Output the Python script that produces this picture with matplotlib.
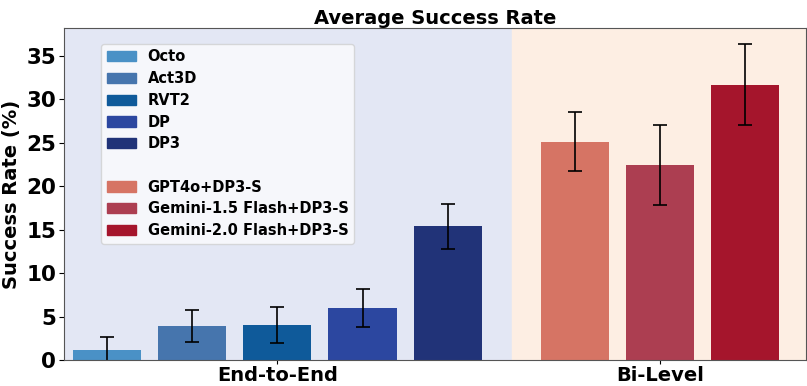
import numpy as np
import matplotlib.pyplot as plt
from matplotlib.patches import Patch

plt.rcParams['font.family'] = 'DejaVu Sans'
plt.rcParams['font.weight'] = 'bold'

# End-to-end policies
e2e_names = ['Octo', 'Act3D', 'RVT2', 'DP', 'DP3']
e2e_vals = [1.2, 3.9, 4.0, 6.0, 15.4]
e2e_err = [1.4, 1.8, 2.1, 2.2, 2.6]
e2e_colors = ['#4a91c6', '#4675ad', '#0f5a9a', '#2c47a0', '#213378']

# Bi-level (VLM planner + DP3-S)
bi_names = ['GPT4o+DP3-S', 'Gemini-1.5 Flash+DP3-S', 'Gemini-2.0 Flash+DP3-S']
bi_vals = [25.1, 22.4, 31.7]
bi_err = [3.4, 4.6, 4.7]
bi_colors = ['#d67464', '#ac3e51', '#a5152c']

group_labels = ['End-to-End', 'Bi-Level']

fig = plt.figure(figsize=(8.07, 3.86), dpi=100)
ax = fig.add_axes([0.0793, 0.0674, 0.92, 0.86])

x_e2e = np.arange(len(e2e_vals))
x_bi = np.arange(len(bi_vals)) + len(e2e_vals) + 0.5

ax.axvspan(-0.51, 4.755, color='#e3e7f4', zorder=0)
ax.axvspan(4.755, 8.22, color='#fdeee3', zorder=0)

ax.bar(x_e2e, e2e_vals, width=0.8, color=e2e_colors, yerr=e2e_err,
       capsize=5, error_kw=dict(elinewidth=1.2, capthick=1.2), zorder=2)
ax.bar(x_bi, bi_vals, width=0.8, color=bi_colors, yerr=bi_err,
       capsize=5, error_kw=dict(elinewidth=1.2, capthick=1.2), zorder=2)

ax.set_xlim(-0.51, 8.22)
ax.set_ylim(0, 38.2)
ax.set_yticks(np.arange(0, 36, 5))
ax.set_xticks([x_e2e.mean(), x_bi.mean()])
ax.set_xticklabels(group_labels, fontsize=14, fontweight='bold')
ax.tick_params(axis='x', pad=1.5, length=3)
ax.tick_params(axis='y', labelsize=15.5, pad=2)
ax.set_ylabel('Success Rate (%)', fontsize=14, fontweight='bold', labelpad=4)
ax.set_title('Average Success Rate', fontsize=14, fontweight='bold', pad=3)

for s in ax.spines.values():
    s.set_color('#555555')

handles = [Patch(color=c, label=n) for c, n in zip(e2e_colors, e2e_names)]
handles.append(Patch(color='none', label=' '))
handles += [Patch(color=c, label=n) for c, n in zip(bi_colors, bi_names)]
ax.legend(handles=handles, loc='upper left', bbox_to_anchor=(0.04, 0.975),
          prop={'size': 10.5, 'weight': 'bold'}, framealpha=0.7,
          labelspacing=0.46)

fig.savefig('out.png', dpi=100)
